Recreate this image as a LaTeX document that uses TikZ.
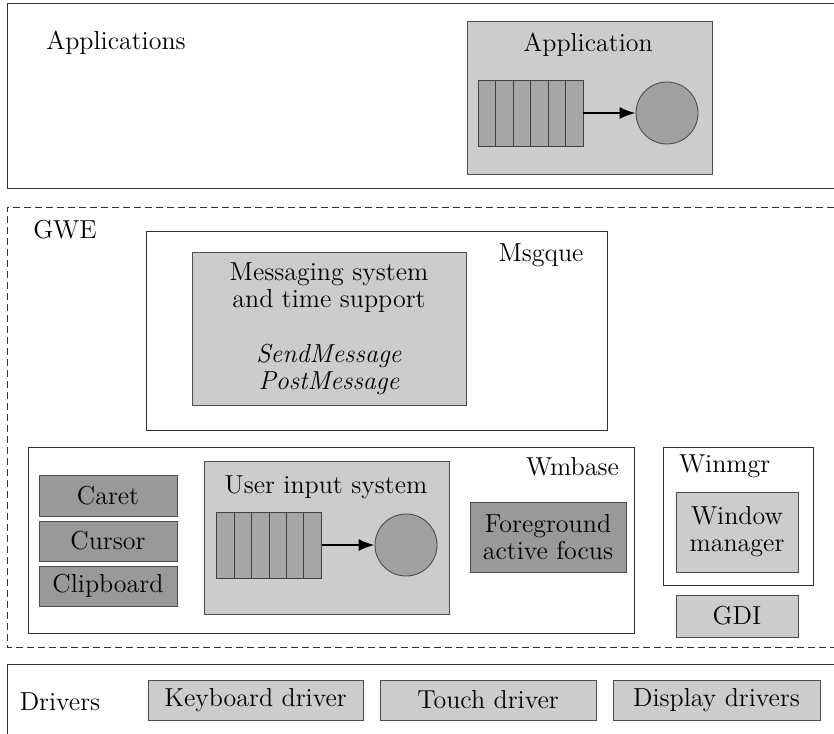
\documentclass[tikz,border=0pt]{standalone}
\usetikzlibrary{arrows.meta}
\definecolor{boxlite}{gray}{0.80}
\definecolor{boxdark}{gray}{0.60}
\definecolor{cellfill}{gray}{0.65}
\definecolor{discfill}{gray}{0.63}

\begin{document}
\begin{tikzpicture}[x=0.5pt,y=-0.5pt,
    every node/.style={font=\fontsize{13}{13.5}\selectfont},
    outline/.style={draw=black!80,line width=0.5pt},
    dashline/.style={draw=black!80,line width=0.5pt,dash pattern=on 3.5pt off 2pt},
    litebox/.style={draw=black!70,fill=boxlite,line width=0.45pt},
    darkbox/.style={draw=black!70,fill=boxdark,line width=0.45pt},
    queue/.style={draw=black!75,fill=cellfill,line width=0.45pt,minimum width=52.5pt,minimum height=33pt,inner sep=0pt},
    cellline/.style={draw=black!75,line width=0.45pt},
    disc/.style={circle,draw=black!70,fill=discfill,line width=0.45pt,minimum size=31pt,inner sep=0pt},
    msgarrow/.style={-{Latex[length=8pt,width=6pt]},line width=1pt}]
    \useasboundingbox (0,0) rectangle (834,733);
    % applications layer
    \draw[outline] (834,4) -- (7,4) -- (7,188) -- (834,188);
    \node (apps) at (116,43) {Applications};
    \draw[litebox] (467,21) rectangle (712,174);
    \node (app) at (588,45) {Application};
    \node[queue] (appq) at (530.5,113) {};
    \foreach \i in {1,...,5} \draw[cellline] (478+17.5*\i,80) -- (478+17.5*\i,146);
    \node[disc] (appc) at (667,113) {};
    \draw[msgarrow] (appq.east) -- (appc.west);
    % GWE layer
    \draw[dashline] (834,207) -- (7,207) -- (7,647) -- (834,647);
    \node (gwe) at (65,230) {GWE};
    \draw[outline,fill=white] (146,231) rectangle (607,430);
    \node (msgque) at (541,255) {Msgque};
    \node[litebox,minimum width=137pt,minimum height=76.5pt,align=center] (msgsys) at (329,328.5)
        {Messaging system\\and time support\\[14pt]\textit{SendMessage}\\\textit{PostMessage}};
    \draw[outline] (28,447) rectangle (634,633);
    \node[anchor=east] (wmbase) at (626,467) {Wmbase};
    \node[darkbox,minimum width=69pt,minimum height=20.5pt] (caret) at (108,495.5) {Caret};
    \node[darkbox,minimum width=69pt,minimum height=20pt] (cursor) at (108,541) {Cursor};
    \node[darkbox,minimum width=69pt,minimum height=20pt] (clip) at (108,586) {Clipboard};
    \draw[litebox] (204,461) rectangle (449,614);
    \node (uis) at (326,487) {User input system};
    \node[queue] (uisq) at (269,545) {};
    \foreach \i in {1,...,5} \draw[cellline] (217+17.33*\i,512) -- (217+17.33*\i,578);
    \node[disc] (uisc) at (406,545) {};
    \draw[msgarrow] (uisq.east) -- (uisc.west);
    \node[darkbox,minimum width=78pt,minimum height=35pt,align=center] (focus) at (548,537)
        {Foreground\\active focus};
    \draw[outline] (663,447) rectangle (813,585);
    \node[anchor=west] (winmgr) at (672,466) {Winmgr};
    \node[litebox,minimum width=61pt,minimum height=40pt,align=center] (wm) at (737,532)
        {Window\\manager};
    \node[litebox,minimum width=61pt,minimum height=21pt] (gdi) at (737,616) {GDI};
    % drivers layer
    \draw[outline] (834,664) -- (7,664) -- (7,740);
    \node (drivers) at (60,702) {Drivers};
    \node[litebox,minimum width=107.5pt,minimum height=20pt] (kbd) at (255.5,700) {Keyboard driver};
    \node[litebox,minimum width=108pt,minimum height=20pt] (touch) at (488,700) {Touch driver};
    \node[litebox,minimum width=103.5pt,minimum height=20pt] (disp) at (716.5,700) {Display drivers};
\end{tikzpicture}
\end{document}
